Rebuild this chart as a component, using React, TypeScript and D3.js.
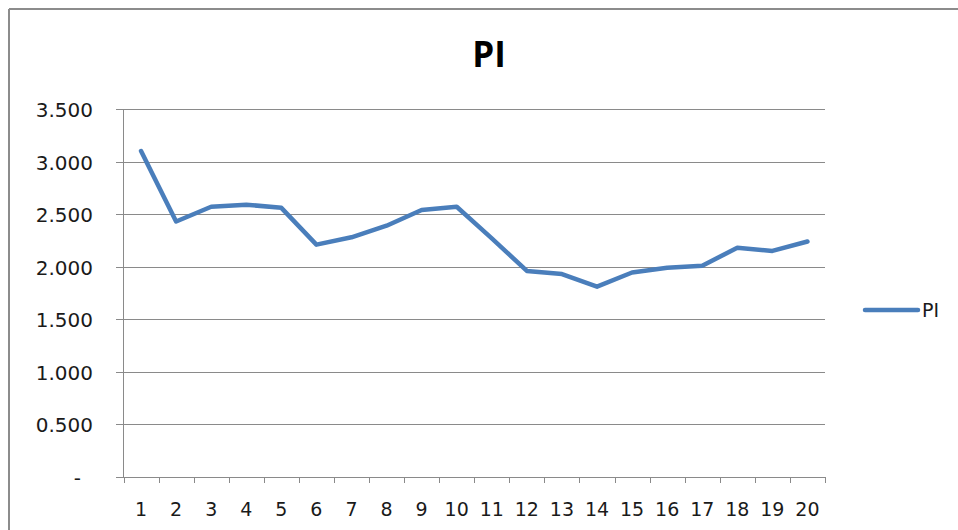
import * as d3 from 'd3';

const categories = ['1', '2', '3', '4', '5', '6', '7', '8', '9', '10', '11', '12', '13', '14', '15', '16', '17', '18', '19', '20'];
const piValues = [3.10, 2.43, 2.57, 2.59, 2.56, 2.21, 2.28, 2.39, 2.54, 2.57, 2.27, 1.96, 1.93, 1.81, 1.945, 1.99, 2.01, 2.18, 2.15, 2.24];
const yTicks = [0, 0.5, 1, 1.5, 2, 2.5, 3, 3.5];
const yTickLabels = ['-', '0.500', '1.000', '1.500', '2.000', '2.500', '3.000', '3.500'];
const seriesName = 'PI';

const width = 958;
const height = 530;
const plot = { left: 123.5, right: 825, top: 109, bottom: 477 };
const lineColor = '#4a7ebb';
const gridColor = '#8a8a8a';
const font = '"DejaVu Sans", Verdana, sans-serif';

export default function App() {
  const x = d3.scaleBand<string>().domain(categories).range([plot.left, plot.right]);
  const y = d3.scaleLinear().domain([0, 3.5]).range([plot.bottom, plot.top]);

  const line = d3
    .line<number>()
    .x((_, i) => x(categories[i])! + x.bandwidth() / 2)
    .y(d => y(d));

  const tickXs = categories.map(c => x(c)!).concat([plot.right]);

  return (
    <div style={{ position: 'absolute', left: 0, top: 0 }}>
      <svg width={width} height={height} style={{ display: 'block', background: '#fff' }}>
        {/* chart frame, only left and top edges show */}
        <line x1={9} y1={9} x2={width} y2={9} stroke="#8c8c8c" strokeWidth={2} />
        <line x1={9} y1={9} x2={9} y2={height} stroke="#8c8c8c" strokeWidth={2} />

        <text x={489} y={67} textAnchor="middle" fontFamily='"Open Sans", sans-serif' fontWeight="bold" fontSize={35} fill="#000">
          {seriesName}
        </text>

        {/* gridlines + y labels */}
        {yTicks.map((t, i) => {
          const yy = Math.round(y(t)) + 0.5;
          const label = yTickLabels[i];
          return (
            <g key={t}>
              <line x1={116} x2={plot.right} y1={yy} y2={yy} stroke={gridColor} strokeWidth={1} />
              <text
                x={label === '-' ? 81 : 93}
                y={yy}
                dy="0.36em"
                textAnchor="end"
                fontFamily={font}
                fontSize={20}
                fill="#1a1a1a"
              >
                {label}
              </text>
            </g>
          );
        })}

        {/* axes */}
        <line x1={plot.left} x2={plot.left} y1={plot.top} y2={plot.bottom} stroke={gridColor} strokeWidth={1} />
        {tickXs.map((tx, i) => (
          <line key={i} x1={Math.round(tx) + 0.5} x2={Math.round(tx) + 0.5} y1={plot.bottom} y2={plot.bottom + 6} stroke={gridColor} strokeWidth={1} />
        ))}
        {categories.map(c => (
          <text key={c} x={x(c)! + x.bandwidth() / 2} y={516} textAnchor="middle" fontFamily={font} fontSize={19} fill="#1a1a1a">
            {c}
          </text>
        ))}

        <path d={line(piValues)!} fill="none" stroke={lineColor} strokeWidth={4.5} strokeLinejoin="round" strokeLinecap="round" />

        {/* legend */}
        <line x1={865} x2={918} y1={310} y2={310} stroke={lineColor} strokeWidth={4.5} strokeLinecap="round" />
        <text x={922} y={317} fontFamily={font} fontSize={19} fill="#1a1a1a">
          {seriesName}
        </text>
      </svg>
    </div>
  );
}
